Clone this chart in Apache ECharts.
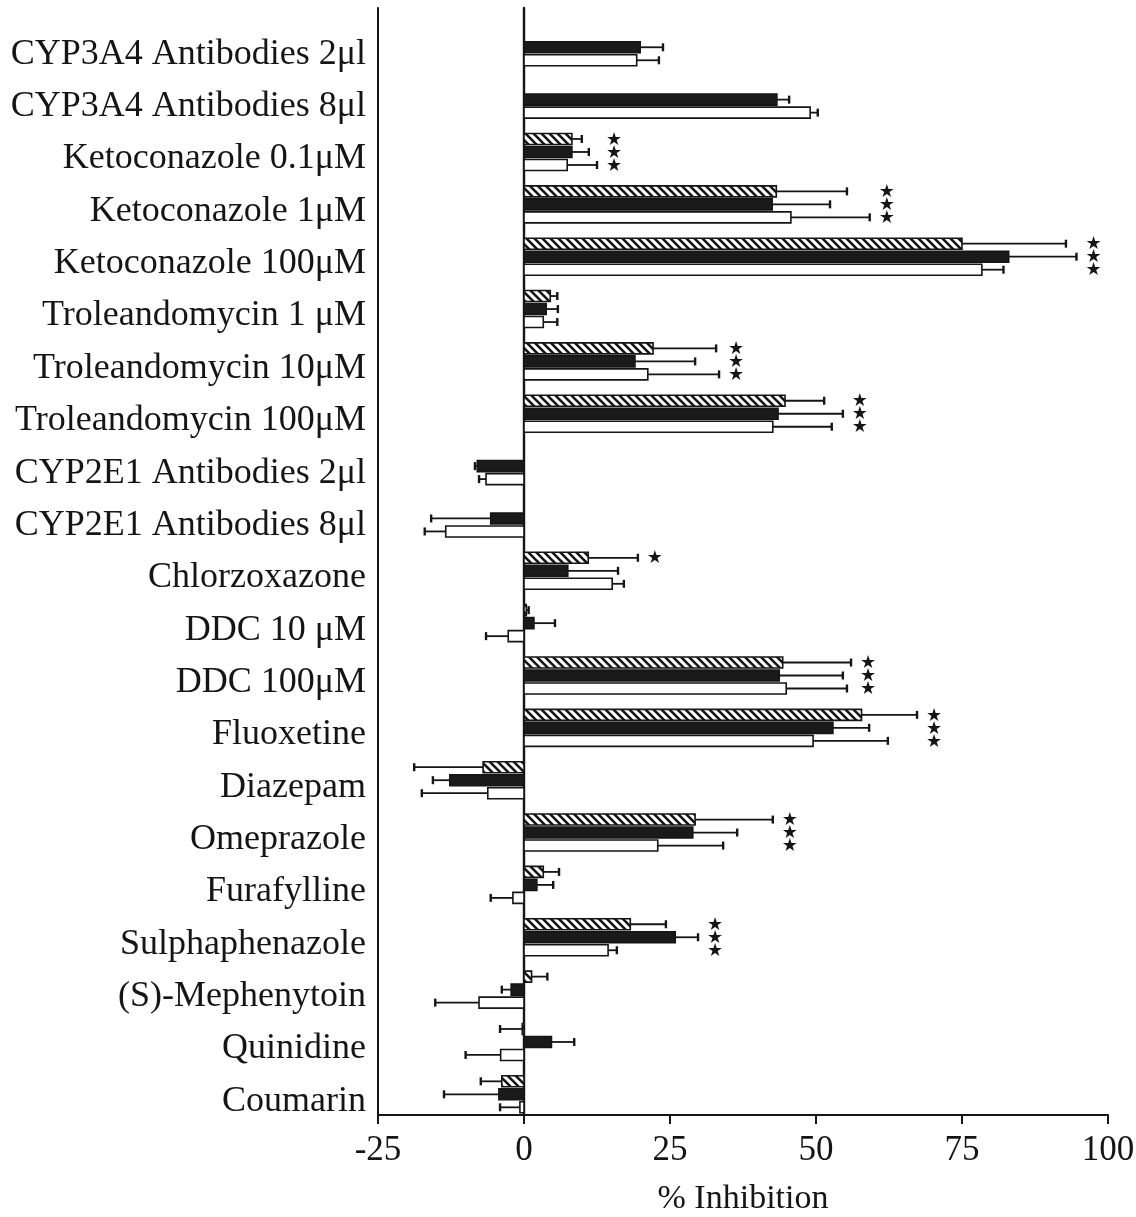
<!DOCTYPE html>
<html>
<head>
<meta charset="utf-8">
<script src="https://cdn.jsdelivr.net/npm/echarts@6/dist/echarts.min.js"></script>
<style>
  html, body { margin: 0; padding: 0; background: #fff; }
  #chart { width: 1136px; height: 1217px; }
</style>
</head>
<body>
<div id="chart"></div>
<script>
// Treatments (top to bottom)
const categories = [
  'CYP3A4 Antibodies 2μl', 'CYP3A4 Antibodies 8μl', 'Ketoconazole 0.1μM', 'Ketoconazole 1μM',
  'Ketoconazole 100μM', 'Troleandomycin 1 μM', 'Troleandomycin 10μM', 'Troleandomycin 100μM',
  'CYP2E1 Antibodies 2μl', 'CYP2E1 Antibodies 8μl', 'Chlorzoxazone', 'DDC 10 μM', 'DDC 100μM',
  'Fluoxetine', 'Diazepam', 'Omeprazole', 'Furafylline', 'Sulphaphenazole', '(S)-Mephenytoin',
  'Quinidine', 'Coumarin'
];

// % inhibition, mean and error for the three groups (hatched, solid, open)
const hatched    = [null, null, 8.2, 43.2, 75.0, 4.5, 22.1, 44.7, null, null, 11.0, 0.4, 44.3, 57.8, -7.0, 29.3, 3.3, 18.2, 1.3, -0.3, -3.8];
const hatchedErr = [null, null, 1.7, 12.1, 17.8, 1.2, 10.8, 6.7, null, null, 8.5, 0.4, 11.7, 9.5, 11.8, 13.3, 2.7, 6.1, 2.7, 3.8, 3.6];
const solid      = [19.9, 43.3, 8.2, 42.5, 83.0, 3.8, 19.0, 43.5, -8.0, -5.7, 7.5, 1.7, 43.7, 52.9, -12.7, 28.9, 2.2, 25.9, -2.2, 4.7, -4.3];
const solidErr   = [3.9, 2.1, 2.9, 9.9, 11.6, 2.0, 10.3, 11.1, 0.4, 10.2, 8.6, 3.6, 10.9, 6.2, 2.9, 7.6, 2.8, 3.9, 1.6, 3.9, 9.4];
const open       = [19.3, 49.0, 7.4, 45.7, 78.4, 3.3, 21.2, 42.6, -6.5, -13.4, 15.1, -2.7, 44.9, 49.5, -6.2, 22.9, -1.9, 14.4, -7.7, -4.0, -0.7];
const openErr    = [3.8, 1.3, 5.1, 13.5, 3.7, 2.4, 12.2, 10.1, 1.2, 3.6, 2.0, 3.8, 10.4, 12.8, 11.3, 11.2, 3.8, 1.5, 7.5, 6.0, 3.4];

// Significance flags (one star per flagged bar)
const sigHatched = [0,0,1,1,1,0,1,1,0,0,1,0,1,1,0,1,0,1,0,0,0];
const sigSolid   = [0,0,1,1,1,0,1,1,0,0,0,0,1,1,0,1,0,1,0,0,0];
const sigOpen    = [0,0,1,1,1,0,1,1,0,0,0,0,1,1,0,1,0,1,0,0,0];

// X axis ticks
const xTicks = [-25, 0, 25, 50, 75, 100];

const FONT = '"Liberation Serif", "Times New Roman", serif';
const INK = '#151515';

function hatchPattern() {
  const c = document.createElement('canvas');
  c.width = 8; c.height = 8;
  const g = c.getContext('2d');
  g.fillStyle = '#fff';
  g.fillRect(0, 0, 8, 8);
  g.strokeStyle = INK;
  g.lineWidth = 2.6;
  g.beginPath();
  g.moveTo(-2, -2); g.lineTo(10, 10);
  g.moveTo(-2, 6); g.lineTo(2, 10);
  g.moveTo(6, -2); g.lineTo(10, 2);
  g.stroke();
  return c;
}

// furthest error-bar tip of each treatment, used to place the stars
const tips = categories.map((_, i) => {
  let m = 0;
  [[hatched, hatchedErr], [solid, solidErr], [open, openErr]].forEach(([v, e]) => {
    if (v[i] != null && v[i] > 0) m = Math.max(m, v[i] + e[i]);
  });
  return m;
});

const groups = [
  { name: 'hatched', values: hatched, errs: hatchedErr, sig: sigHatched, fill: { image: hatchPattern(), repeat: 'repeat' } },
  { name: 'solid', values: solid, errs: solidErr, sig: sigSolid, fill: '#1a1a1a' },
  { name: 'open', values: open, errs: openErr, sig: sigOpen, fill: '#ffffff' }
];

const BAR_PITCH = 13;
const BAR_H = 11;

function makeSeries(grp, k) {
  const data = [];
  grp.values.forEach((v, i) => {
    if (v == null) return;
    data.push([i, v, grp.errs[i], grp.sig[i], tips[i]]);
  });
  return {
    type: 'custom',
    name: grp.name,
    xAxisIndex: 1,
    yAxisIndex: 2,
    encode: { x: 1, y: 0 },
    silent: true,
    data: data,
    renderItem: function (params, api) {
      const cat = api.value(0);
      const v = api.value(1);
      const e = api.value(2);
      const sig = api.value(3);
      const tip = api.value(4);
      const base = api.coord([0, cat]);
      const end = api.coord([v, cat]);
      const dir = v < 0 ? -1 : 1;
      const cap = api.coord([v + dir * e, cat]);
      const y = base[1] + (k - 1) * BAR_PITCH;
      const children = [];
      const x0 = Math.min(base[0], end[0]);
      const w = Math.abs(end[0] - base[0]);
      // error bar
      children.push({
        type: 'line',
        shape: { x1: end[0], y1: y, x2: cap[0], y2: y },
        style: { stroke: INK, lineWidth: 1.8 }
      });
      children.push({
        type: 'line',
        shape: { x1: cap[0], y1: y - 4, x2: cap[0], y2: y + 4 },
        style: { stroke: INK, lineWidth: 2.4 }
      });
      // bar
      children.push({
        type: 'rect',
        shape: { x: x0, y: y - BAR_H / 2, width: w, height: BAR_H },
        style: { fill: grp.fill, stroke: INK, lineWidth: 1.6 }
      });
      if (sig) {
        const sx = api.coord([tip, cat])[0] + 17;
        children.push({
          type: 'text',
          style: {
            text: '★', x: sx, y: y + 1,
            align: 'center', verticalAlign: 'middle',
            font: '18px "DejaVu Sans", sans-serif', fill: INK
          }
        });
      }
      return { type: 'group', children: children };
    }
  };
}

const chart = echarts.init(document.getElementById('chart'), null, { renderer: 'canvas' });

const option = {
  backgroundColor: '#ffffff',
  animation: false,
  grid: [
    { left: 378, right: 28, top: 8, bottom: 102, containLabel: false, outerBoundsMode: 'none' },
    { left: 378, right: 28, top: 21.1, height: 1099.4, containLabel: false, outerBoundsMode: 'none' }
  ],
  xAxis: [
    {
      gridIndex: 0, type: 'value', min: xTicks[0], max: xTicks[xTicks.length - 1], interval: 25,
      axisLine: { onZero: false, lineStyle: { color: INK, width: 2 } },
      axisTick: { show: true, inside: false, length: 9, lineStyle: { color: INK, width: 2 } },
      axisLabel: { color: INK, fontFamily: FONT, fontSize: 35, margin: 18 },
      splitLine: { show: false },
      name: '% Inhibition', nameLocation: 'middle', nameGap: 67,
      nameTextStyle: { color: INK, fontFamily: FONT, fontSize: 34 }
    },
    {
      gridIndex: 1, type: 'value', min: xTicks[0], max: xTicks[xTicks.length - 1], show: false
    }
  ],
  yAxis: [
    {
      gridIndex: 0, type: 'value', position: 'left', min: 0, max: 1,
      axisLine: { show: true, onZero: false, lineStyle: { color: INK, width: 2 } },
      axisTick: { show: false }, axisLabel: { show: false }, splitLine: { show: false }
    },
    {
      gridIndex: 0, type: 'value', position: 'left', min: 0, max: 1,
      axisLine: { show: true, onZero: true, lineStyle: { color: INK, width: 2.4 } },
      axisTick: { show: false }, axisLabel: { show: false }, splitLine: { show: false }
    },
    {
      gridIndex: 1, type: 'category', inverse: true, data: categories,
      axisLine: { show: false, onZero: false }, axisTick: { show: false },
      axisLabel: {
        interval: 0, margin: 12,
        formatter: (v) => '{t|' + v + '}',
        rich: { t: { color: INK, fontFamily: FONT, fontSize: 36, padding: [14, 0, 0, 0] } }
      },
      splitLine: { show: false }
    }
  ],
  series: groups.map(makeSeries)
};

chart.setOption(option);
</script>
</body>
</html>
